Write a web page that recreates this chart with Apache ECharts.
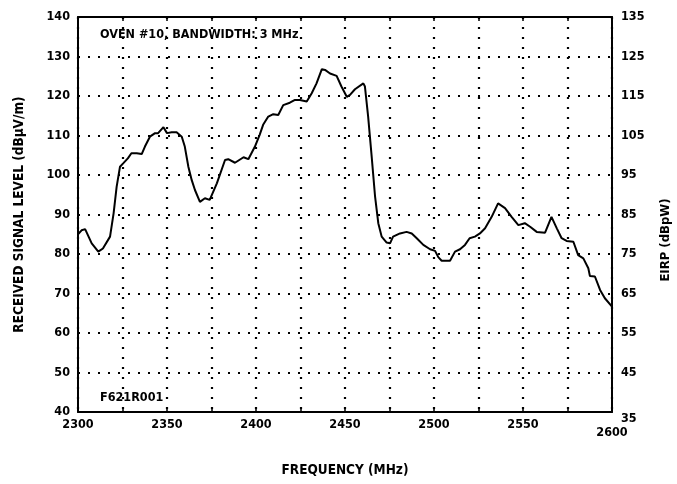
<!DOCTYPE html>
<html>
<head>
<meta charset="utf-8">
<script src="https://cdn.jsdelivr.net/npm/echarts@6/dist/echarts.min.js"></script>
<style>html,body{margin:0;padding:0;background:#fff;}#c{width:677px;height:484px;}</style>
</head>
<body>
<div id="c"></div>
<script>
const freqMHz = [2300,2302,2304,2307.7,2311.4,2314,2318,2320,2321.7,2323.6,2325.5,2328,2330,2333,2335.8,2337.6,2340.4,2343.3,2345,2348,2350,2352.6,2355.4,2358.3,2360,2362,2363.9,2365.7,2368.5,2371.3,2374,2378,2382.6,2384.4,2388.2,2393,2395.7,2399.4,2402,2404,2406.9,2409.7,2412.5,2415.3,2419,2421.9,2424.7,2428.5,2431.3,2434,2437,2438.8,2441.6,2445.3,2448,2451,2452.8,2455.6,2460.3,2461.2,2463,2465,2466.9,2468.7,2470.6,2473.4,2475.3,2477,2480.9,2484.6,2487.5,2490.3,2494,2497.8,2500.6,2502.4,2504.3,2507,2509,2511.8,2514.6,2517.4,2520,2523,2525.8,2528.7,2532.4,2536,2539.9,2543.6,2547.4,2551,2554,2557.7,2562.4,2566,2569,2571.7,2574.5,2578.3,2581,2583.9,2586.7,2587.6,2590.4,2593.3,2596,2600];
const signalLevel = [85,86,86.3,82.7,80.6,81.4,84.4,90.3,97,102.1,103,104.2,105.5,105.5,105.3,107.2,109.7,110.6,110.6,112.1,110.6,110.8,110.8,109.7,107.2,102.1,98.7,96.2,93.2,94.1,93.7,97.9,103.8,104,103.1,104.5,104,107.2,110.1,112.7,114.8,115.4,115.2,117.7,118.3,119,119,118.6,120.7,123.2,126.8,126.6,125.7,125.1,122.4,119.8,120.3,121.7,123.2,122.4,114.8,104.6,94.5,87.8,84.4,82.9,82.7,84.4,85.2,85.6,85.2,84,82.3,81.2,80.8,79.2,78.3,78.3,78.3,80.6,81.2,82.3,84,84.4,85.2,86.5,89.4,92.8,91.6,89.4,87.3,87.8,86.9,85.6,85.4,89.4,86.5,84,83.3,83.1,79.7,78.9,76.4,74.4,74.3,70.9,68.8,66.7];
const titleText = "OVEN #10, BANDWIDTH: 3 MHz";
const codeText = "F621R001";
const xName = "FREQUENCY (MHz)";
const yLeftName = "RECEIVED SIGNAL LEVEL (dBµV/m)";
const yRightName = "EIRP (dBpW)";
const eirpOffset = 5;

const FONT = "'DejaVu Sans Condensed','Liberation Sans Narrow',Arial,sans-serif";
const chart = echarts.init(document.getElementById('c'));
const dotted = {color:'#000', width:2.2, type:[2,8]};
const txt = {color:'#000', fontFamily:FONT, fontSize:12.5, fontWeight:'bold'};
chart.setOption({
  animation:false,
  backgroundColor:'#fff',
  grid:{left:78, right:65, top:17, bottom:72},
  xAxis:[{
    type:'value', min:2300, max:2600, interval:25, position:'bottom',
    axisLine:{lineStyle:{color:'#000', width:2}},
    axisTick:{show:true, inside:true, length:4, lineStyle:{color:'#000', width:1.5}},
    axisLabel:Object.assign({margin:6, formatter:v=> v%50!==0 ? '' : (v===2600 ? '{low|2600}' : String(v)),
      rich:{low:{lineHeight:30, fontFamily:FONT, fontSize:12.5, fontWeight:'bold', color:'#000'}}}, txt),
    splitLine:{show:true, lineStyle:dotted},
    name:xName, nameLocation:'middle', nameGap:51, nameTextStyle:Object.assign({}, txt, {fontSize:13.5})
  },{
    type:'value', min:2300, max:2600, interval:25, position:'top',
    axisLine:{lineStyle:{color:'#000', width:2}},
    axisTick:{show:true, inside:true, length:4, lineStyle:{color:'#000', width:1.5}},
    axisLabel:{show:false}, splitLine:{show:false}
  }],
  yAxis:[{
    type:'value', min:40, max:140, interval:10, position:'left',
    axisLine:{show:true, lineStyle:{color:'#000', width:2}},
    axisTick:{show:false},
    axisLabel:Object.assign({margin:8}, txt),
    splitLine:{show:true, lineStyle:dotted},
    name:yLeftName, nameLocation:'middle', nameGap:52, nameRotate:90, nameTextStyle:Object.assign({}, txt, {fontSize:13.5})
  },{
    type:'value', min:40, max:140, interval:10, position:'right',
    axisLine:{show:true, lineStyle:{color:'#000', width:2}},
    axisTick:{show:false},
    axisLabel:Object.assign({margin:9, formatter:v=> v===40 ? '{low|'+(v-eirpOffset)+'}' : String(v-eirpOffset),
      rich:{low:{padding:[14,0,0,0], fontFamily:FONT, fontSize:12.5, fontWeight:'bold', color:'#000'}}}, txt),
    splitLine:{show:false}
  }],
  graphic:[
    {type:'text', left:100, top:28, style:{text:titleText, fill:'#000', font:"bold 12.5px "+FONT}},
    {type:'text', left:100, top:391, style:{text:codeText, fill:'#000', font:"bold 12.5px "+FONT}},
    {type:'text', x:666, y:240, rotation:Math.PI/2, style:{text:yRightName, fill:'#000', align:'center', verticalAlign:'middle', font:"bold 13px "+FONT}}
  ],
  series:[{
    type:'line', xAxisIndex:0, yAxisIndex:0, showSymbol:false, smooth:false,
    lineStyle:{color:'#000', width:2},
    data:freqMHz.map((f,i)=>[f, signalLevel[i]])
  }]
});
</script>
</body>
</html>
